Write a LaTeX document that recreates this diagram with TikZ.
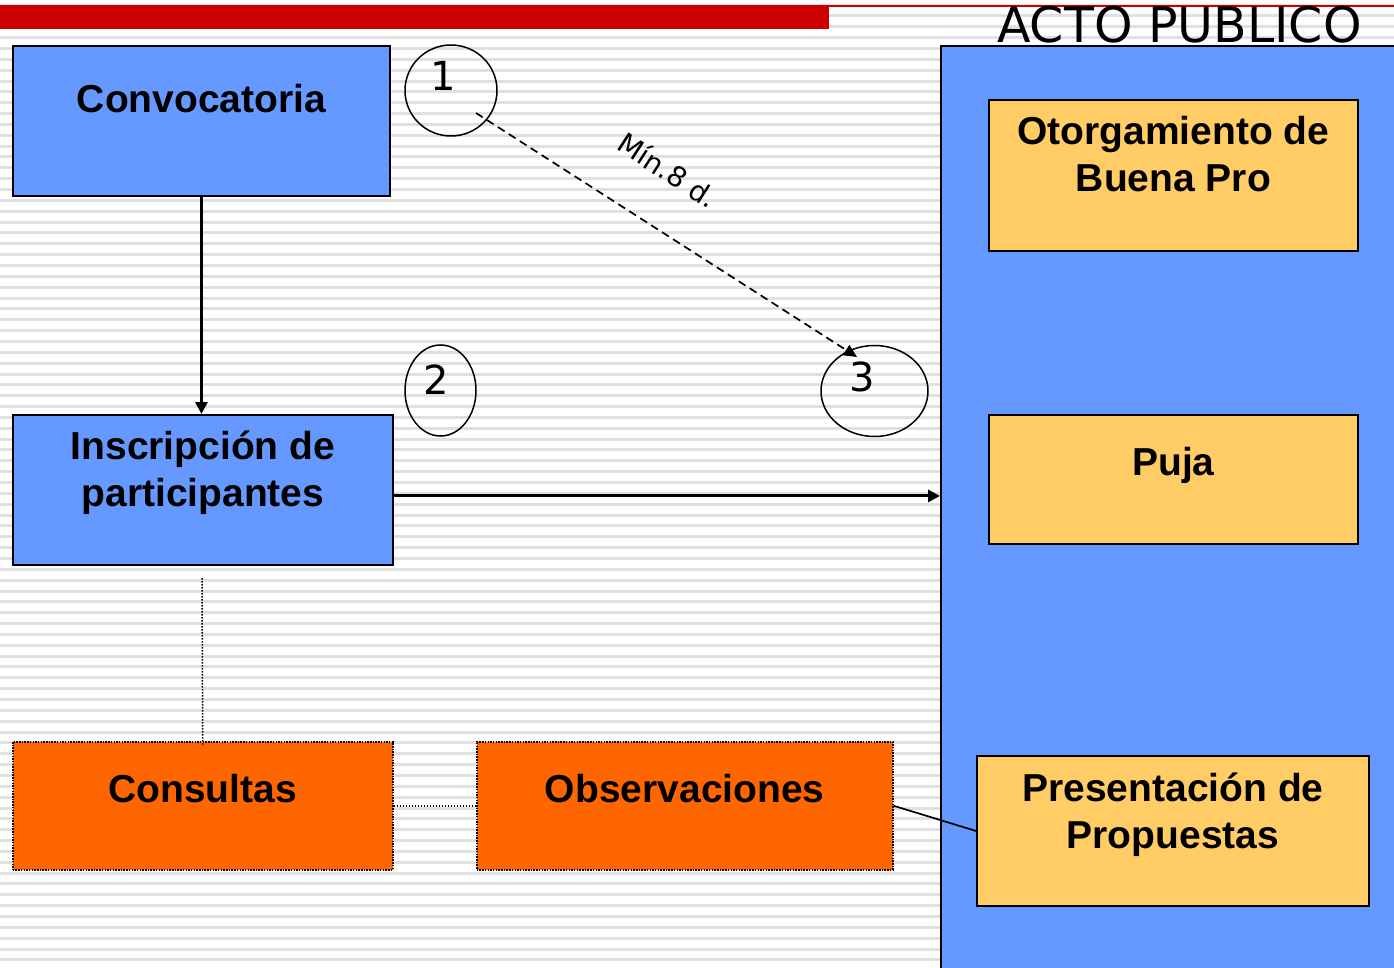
\documentclass[tikz,border=0pt]{standalone}
\usepackage{fontspec}
\setmainfont{Liberation Sans}
\newfontfamily\dejavu{DejaVu Sans}
\usetikzlibrary{arrows.meta,shapes.geometric}
\definecolor{boxblue}{HTML}{6699FF}
\definecolor{boxorange}{HTML}{FF6600}
\definecolor{boxyellow}{HTML}{FFCC66}
\definecolor{barred}{HTML}{CC0000}
\definecolor{stripegray}{HTML}{E0E0E0}
\newcommand{\twol}[2]{\begin{tabular}[t]{@{}c@{}}#1\\#2\end{tabular}}
\begin{document}
\begin{tikzpicture}[x=1pt,y=-1pt,
  box/.style={draw=black, line width=1.9pt, rectangle, inner sep=0pt, anchor=north west},
  dotbox/.style={draw=black, line width=1.5pt, dash pattern=on 1.5pt off 1.2pt, rectangle, inner sep=0pt, anchor=north west},
  btxt/.style={anchor=base, inner sep=0pt, font=\fontsize{39}{47}\selectfont\bfseries},
  numcirc/.style={draw=black, ellipse, line width=1.5pt, inner sep=0pt},
  numtxt/.style={inner sep=0pt, font=\dejavu\fontsize{40}{44}\selectfont},
  arr/.style={line width=3pt, -{Triangle[length=12pt,width=12pt]}},
  dasharr/.style={line width=1.7pt, dash pattern=on 8pt off 5pt, -{Triangle[length=13pt,width=12pt]}},
  dotline/.style={line width=1.5pt, dash pattern=on 1.5pt off 1.5pt},
  plainline/.style={line width=1.7pt}]
\useasboundingbox (0,0) rectangle (1394,968);
\clip (0,0) rectangle (1394,968);
\fill[white] (0,0) rectangle (1394,968);
% background stripes
\foreach \k in {0,...,89}
  \draw[stripegray, line width=3pt] (0,{5.1+10.85*\k}) -- (1394,{5.1+10.85*\k});
% red bar
\fill[barred] (0,5) rectangle (829,29);
\fill[barred] (829,5) rectangle (1394,7.5);
% big public act area
\node[box, fill=boxblue, minimum width=480pt, minimum height=960pt] (act) at (940,45) {};
\node[anchor=base west, inner sep=0pt, font=\dejavu\fontsize{49}{52}\selectfont] (acttitle) at (997,43) {ACTO PUBLICO};
% left boxes
\node[box, fill=boxblue, minimum width=377pt, minimum height=150pt] (conv) at (12,45) {};
\node[btxt] (convt) at ([yshift=-68pt]conv.north) {Convocatoria};
\node[box, fill=boxblue, minimum width=380pt, minimum height=150pt] (ins) at (12,414) {};
\node[btxt] (inst) at ([yshift=-45pt]ins.north) {\twol{Inscripción de}{participantes}};
\node[dotbox, fill=boxorange, minimum width=380pt, minimum height=128pt] (cons) at (12,741) {};
\node[btxt] (const) at ([yshift=-61pt]cons.north) {Consultas};
\node[dotbox, fill=boxorange, minimum width=416pt, minimum height=128pt] (obs) at (476,741) {};
\node[btxt] (obst) at ([yshift=-61pt]obs.north) {Observaciones};
% right boxes
\node[box, fill=boxyellow, minimum width=369pt, minimum height=151pt] (otor) at (988,99.5) {};
\node[btxt] (otort) at ([yshift=-45.5pt]otor.north) {\twol{Otorgamiento de}{Buena Pro}};
\node[box, fill=boxyellow, minimum width=369pt, minimum height=129pt] (puja) at (988,414) {};
\node[btxt] (pujat) at ([yshift=-61.5pt]puja.north) {Puja};
\node[box, fill=boxyellow, minimum width=392pt, minimum height=150pt] (pres) at (976,755) {};
\node[btxt] (prest) at ([yshift=-46pt]pres.north) {\twol{Presentación de}{Propuestas}};
% numbered circles
\node[numcirc, minimum width=92pt, minimum height=91pt] (c1) at (451,90.5) {};
\node[numtxt] (n1) at (443,76) {1};
\node[numcirc, minimum width=71pt, minimum height=91pt] (c2) at (440.5,390.5) {};
\node[numtxt] (n2) at (436,380) {2};
\node[numcirc, minimum width=107pt, minimum height=91pt] (c3) at (874.5,391) {};
\node[numtxt] (n3) at (862,377) {3};
% connectors
\draw[arr] (conv.south) -- (conv.south |- ins.north);
\draw[arr] ([yshift=-6pt]ins.east) -- ([yshift=-6pt]ins.east -| act.west);
\coordinate (dstart) at (476,113);
\coordinate (dend) at (857,357);
\draw[dasharr] (dstart) -- (dend);
\node[inner sep=0pt, rotate=-33, font=\dejavu\fontsize{28}{30}\selectfont] (mint) at (668,170) {Mín.8 d.};
\coordinate (vdot) at (202,578);
\draw[dotline] (vdot) -- ([yshift=-5pt]cons.north);
\draw[dotline] (cons.east) -- (obs.west);
\draw[plainline] (obs.east) -- (pres.west);
\end{tikzpicture}
\end{document}
